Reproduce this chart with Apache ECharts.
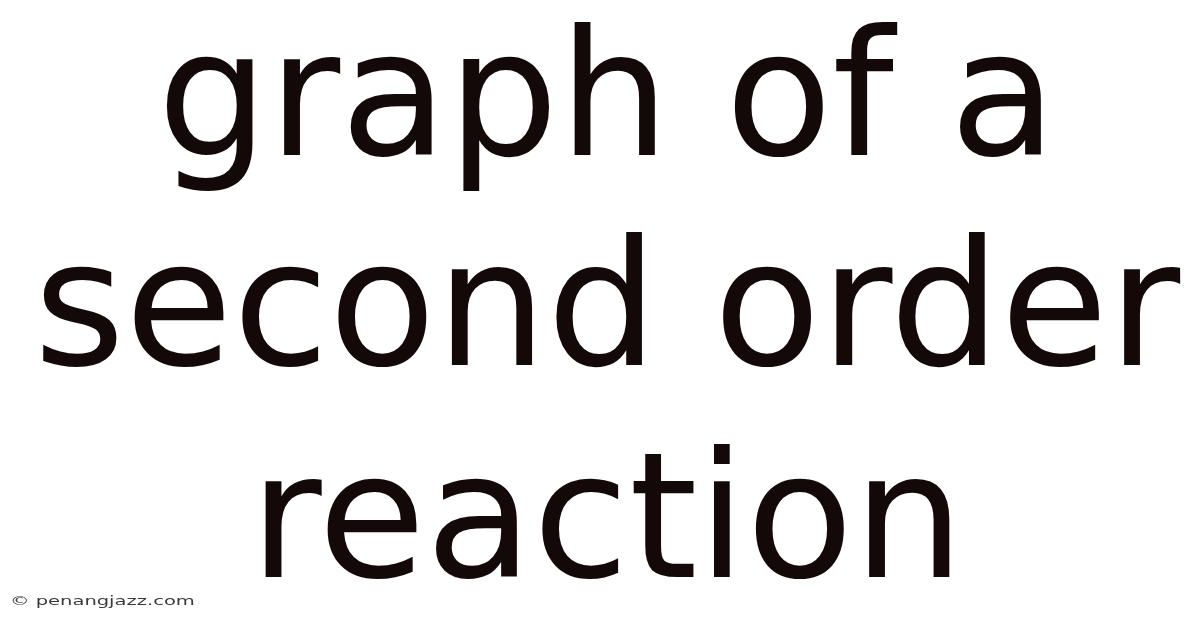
<!DOCTYPE html>
<html>
<head>
<meta charset="utf-8">
<script src="https://cdn.jsdelivr.net/npm/echarts@6/dist/echarts.min.js"></script>
<style>
html,body{margin:0;padding:0;background:#ffffff;}
#chart{width:1200px;height:628px;}
</style>
</head>
<body>
<div id="chart"></div>
<script>
var titleLines = ["graph of a", "second order", "reaction"];
var watermark = "\u00a9 penangjazz.com";

var chart = echarts.init(document.getElementById('chart'), null, {renderer: 'canvas'});
var lineY = [110, 320, 532];
var elements = titleLines.map(function (t, i) {
  return {
    type: 'text',
    x: 607,
    y: lineY[i],
    style: {
      text: t,
      fontFamily: 'DejaVu Sans',
      fontSize: 175,
      fill: '#130909',
      align: 'center',
      verticalAlign: 'middle'
    }
  };
});
elements.push({
  type: 'text',
  x: 10,
  y: 602,
  scaleX: 1.5,
  originX: 0,
  style: {
    text: watermark,
    fontFamily: 'DejaVu Sans',
    fontSize: 13,
    fill: '#3a3a3a',
    align: 'left',
    verticalAlign: 'middle'
  }
});
chart.setOption({
  backgroundColor: '#ffffff',
  animation: false,
  graphic: {elements: elements}
});
</script>
</body>
</html>
